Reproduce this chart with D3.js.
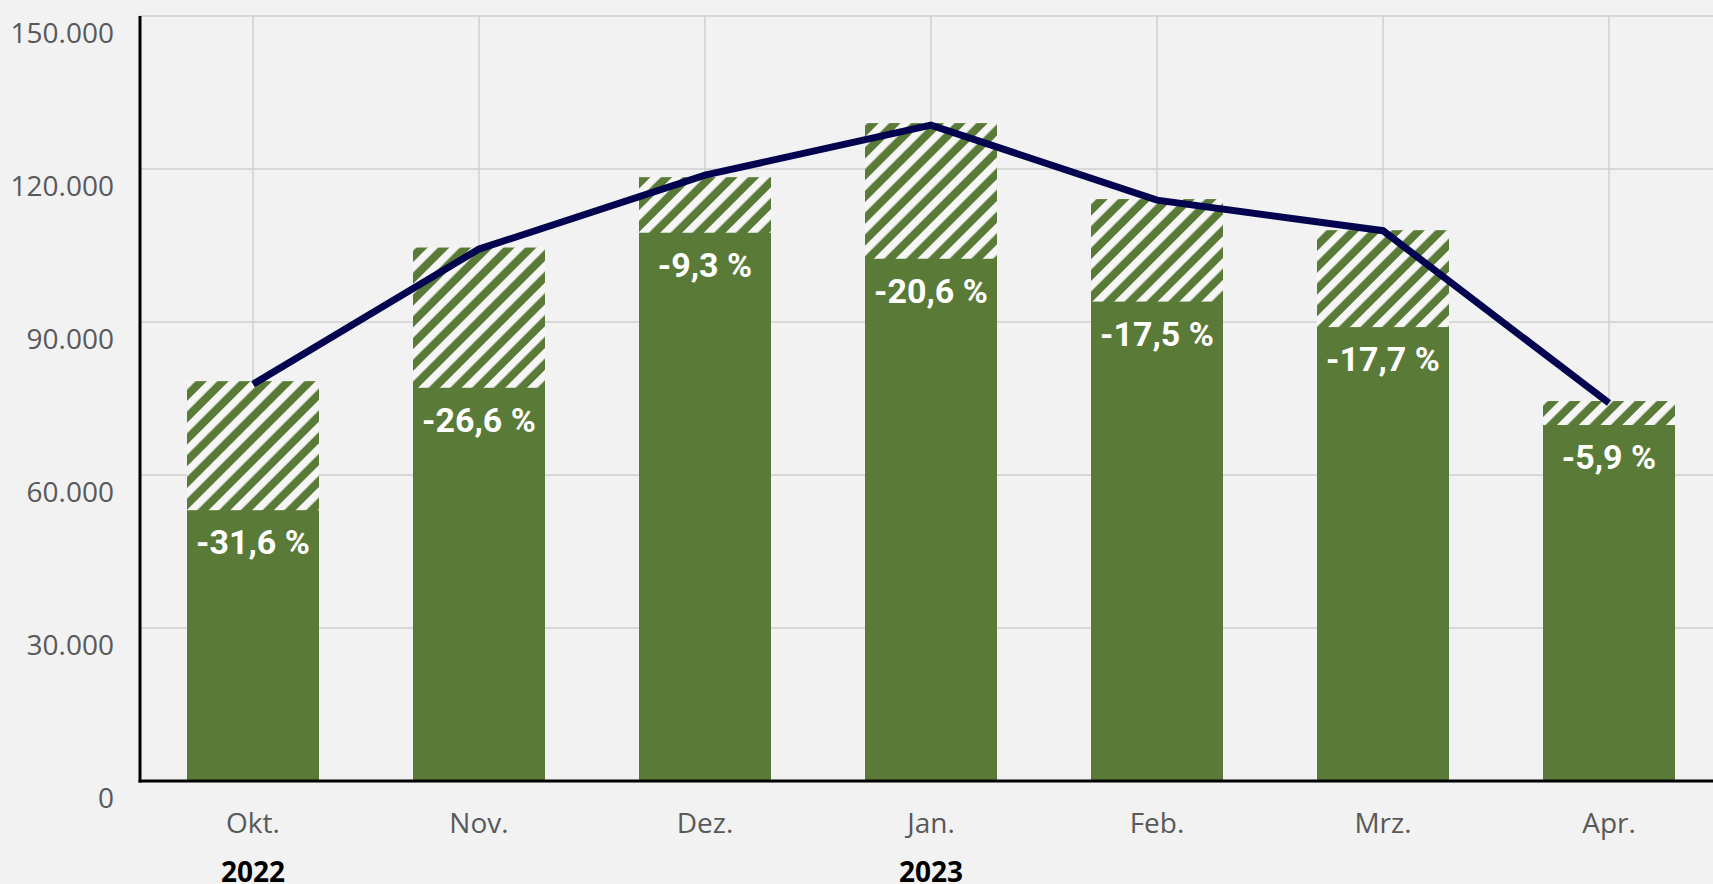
<!DOCTYPE html>
<html>
<head>
<meta charset="utf-8">
<script src="https://d3js.org/d3.v7.min.js"></script>
<style>
  html, body { margin: 0; padding: 0; background: #f2f2f2; }
  svg { display: block; }
  .tick-label { font-family: "Open Sans", "Noto Sans", sans-serif; font-size: 28px; fill: #595959; }
  .year-label { font-family: "Open Sans", "Noto Sans", sans-serif; font-size: 28px; font-weight: bold; fill: #000; }
  .bar-label { font-family: Roboto, "Open Sans", sans-serif; font-size: 34px; font-weight: bold; fill: #fff; }
</style>
</head>
<body>
<svg width="1713" height="884"></svg>
<script>
var months = ["Okt.", "Nov.", "Dez.", "Jan.", "Feb.", "Mrz.", "Apr."];
var years = ["2022", "", "", "2023", "", "", ""];
// Vorjahr (schraffiert) und aktuelles Jahr (grün)
var previous = [78400, 104600, 118400, 129000, 114100, 108000, 74500];
var current = [53100, 77100, 107500, 102400, 94000, 89000, 69800];
// Linie
var average = [77800, 104300, 118800, 128600, 113900, 107900, 74100];
var changes = [-31.6, -26.6, -9.3, -20.6, -17.5, -17.7, -5.9];
var yTicks = [0, 30000, 60000, 90000, 120000, 150000];

var de = d3.formatLocale({ decimal: ",", thousands: ".", grouping: [3], currency: ["", " €"], minus: "-" });
var fmtTick = de.format(",.0f"),
	fmtPct = de.format(".1f");

var svg = d3.select("svg"),
	width = +svg.attr("width"),
	height = +svg.attr("height");

var plotLeft = 140, plotTop = 16, plotBottom = 781;

var x = d3.scaleBand()
	.domain(months)
	.range([plotLeft, plotLeft + 7 * 226])
	.paddingInner(0.416)
	.paddingOuter(0.208);

var y = d3.scaleLinear()
	.domain([0, 150000])
	.range([plotBottom, plotTop]);

var green = "#5a7a37";

// Schraffur
var defs = svg.append("defs");
var pat = defs.append("pattern")
	.attr("id", "hatch")
	.attr("patternUnits", "userSpaceOnUse")
	.attr("width", 15.4)
	.attr("height", 15.4)
	.attr("patternTransform", "rotate(45)");
pat.append("rect").attr("width", 15.4).attr("height", 15.4).attr("fill", green);
pat.append("rect").attr("width", 7.4).attr("height", 15.4).attr("fill", "#f6f6f6");

// Gitter
var grid = svg.append("g");
grid.selectAll(".hgrid")
	.data(yTicks.filter(function(d) { return d > 0; }))
	.enter().append("line")
	.attr("x1", plotLeft).attr("x2", width)
	.attr("y1", function(d) { return y(d); })
	.attr("y2", function(d) { return y(d); })
	.attr("stroke", "#cfcfcf").attr("stroke-width", 1.5);
grid.selectAll(".vgrid")
	.data(months)
	.enter().append("line")
	.attr("x1", function(d) { return x(d) + x.bandwidth() / 2; })
	.attr("x2", function(d) { return x(d) + x.bandwidth() / 2; })
	.attr("y1", plotTop).attr("y2", plotBottom)
	.attr("stroke", "#cfcfcf").attr("stroke-width", 1.5);

// Balken
var bars = svg.append("g");
bars.selectAll(".prev")
	.data(previous)
	.enter().append("rect")
	.attr("x", function(d, i) { return x(months[i]); })
	.attr("y", function(d) { return y(d); })
	.attr("width", x.bandwidth())
	.attr("height", function(d) { return plotBottom - y(d); })
	.attr("fill", "url(#hatch)");
bars.selectAll(".cur")
	.data(current)
	.enter().append("rect")
	.attr("x", function(d, i) { return x(months[i]); })
	.attr("y", function(d) { return y(d); })
	.attr("width", x.bandwidth())
	.attr("height", function(d) { return plotBottom - y(d); })
	.attr("fill", green);

bars.selectAll(".bar-label")
	.data(changes)
	.enter().append("text")
	.attr("class", "bar-label")
	.attr("text-anchor", "middle")
	.attr("x", function(d, i) { return x(months[i]) + x.bandwidth() / 2; })
	.attr("y", function(d, i) { return y(current[i]) + 44; })
	.text(function(d) { return fmtPct(d) + " %"; });

// Linie
var line = d3.line()
	.x(function(d, i) { return x(months[i]) + x.bandwidth() / 2; })
	.y(function(d) { return y(d); });
svg.append("path")
	.datum(average)
	.attr("d", line)
	.attr("fill", "none")
	.attr("stroke", "#03034f")
	.attr("stroke-width", 7)
	.attr("stroke-linejoin", "miter");

// Achsen
svg.append("line")
	.attr("x1", plotLeft).attr("x2", plotLeft)
	.attr("y1", plotTop).attr("y2", plotBottom + 1.5)
	.attr("stroke", "#000").attr("stroke-width", 3);
svg.append("line")
	.attr("x1", plotLeft - 1.5).attr("x2", width)
	.attr("y1", plotBottom).attr("y2", plotBottom)
	.attr("stroke", "#000").attr("stroke-width", 3);

svg.selectAll(".ytick")
	.data(yTicks)
	.enter().append("text")
	.attr("class", "tick-label")
	.attr("text-anchor", "end")
	.attr("x", 114)
	.attr("y", function(d) { return y(d) + 27; })
	.text(function(d) { return fmtTick(d); });

svg.selectAll(".xtick")
	.data(months)
	.enter().append("text")
	.attr("class", "tick-label")
	.attr("text-anchor", "middle")
	.attr("x", function(d) { return x(d) + x.bandwidth() / 2; })
	.attr("y", 833)
	.text(function(d) { return d; });

svg.selectAll(".year-label")
	.data(years)
	.enter().append("text")
	.attr("class", "year-label")
	.attr("text-anchor", "middle")
	.attr("x", function(d, i) { return x(months[i]) + x.bandwidth() / 2; })
	.attr("y", 882)
	.text(function(d) { return d; });
</script>
</body>
</html>
